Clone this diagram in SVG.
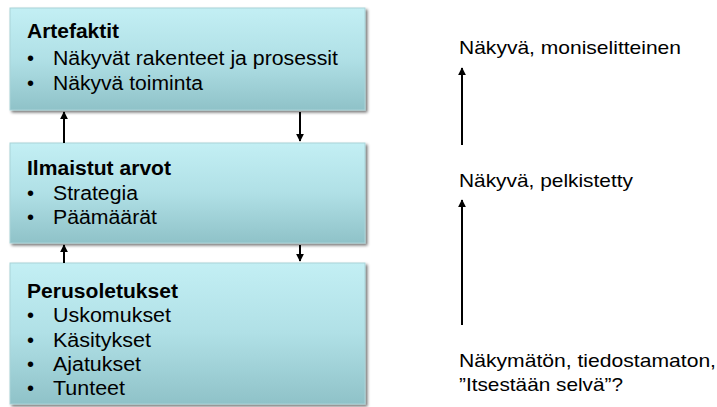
<svg xmlns="http://www.w3.org/2000/svg" width="717" height="407" viewBox="0 0 717 407">
  <defs>
    <linearGradient id="boxFill" x1="0" y1="0" x2="0" y2="1">
      <stop offset="0" stop-color="#c3eff4"/>
      <stop offset="0.5" stop-color="#b0e0e6"/>
      <stop offset="1" stop-color="#8fc2c8"/>
    </linearGradient>
    <filter id="shadow" x="-5%" y="-5%" width="115%" height="120%">
      <feGaussianBlur in="SourceAlpha" stdDeviation="1.5"/>
      <feOffset dx="2" dy="2" result="b"/>
      <feComponentTransfer><feFuncA type="linear" slope="0.55"/></feComponentTransfer>
      <feMerge><feMergeNode/><feMergeNode in="SourceGraphic"/></feMerge>
    </filter>
    <marker id="head" viewBox="0 0 10 10" refX="9" refY="5" markerWidth="4" markerHeight="4" orient="auto">
      <path d="M0,0 L10,5 L0,10 z" fill="#000"/>
    </marker>
  </defs>
  <style>
    .box { fill: url(#boxFill); stroke: #a9d3d8; stroke-width: 1; filter: url(#shadow); }
    .title { font-family: "Liberation Sans", Arial, sans-serif; font-size: 20px; font-weight: bold; fill: #000; }
    .item { font-family: "Liberation Sans", Arial, sans-serif; font-size: 20px; fill: #000; }
    .side { font-family: "Liberation Sans", Arial, sans-serif; font-size: 19px; fill: #000; }
    .conn { stroke: #000; stroke-width: 2; fill: none; marker-end: url(#head); }
  </style>

  <rect width="717" height="407" fill="#fff"/>

  <g id="artefaktit">
    <rect class="box" x="10" y="8" width="355" height="102"/>
    <text class="title" x="27" y="38" textLength="92" lengthAdjust="spacingAndGlyphs">Artefaktit</text>
    <text class="item" x="27" y="65">•</text>
    <text class="item" x="53" y="65" textLength="285" lengthAdjust="spacingAndGlyphs">Näkyvät rakenteet ja prosessit</text>
    <text class="item" x="27" y="90">•</text>
    <text class="item" x="53" y="90" textLength="150" lengthAdjust="spacingAndGlyphs">Näkyvä toiminta</text>
  </g>

  <g id="ilmaistut-arvot">
    <rect class="box" x="10" y="143" width="355" height="100"/>
    <text class="title" x="27" y="175" textLength="144" lengthAdjust="spacingAndGlyphs">Ilmaistut arvot</text>
    <text class="item" x="27" y="200">•</text>
    <text class="item" x="53" y="200" textLength="85" lengthAdjust="spacingAndGlyphs">Strategia</text>
    <text class="item" x="27" y="224">•</text>
    <text class="item" x="53" y="224" textLength="104" lengthAdjust="spacingAndGlyphs">Päämäärät</text>
  </g>

  <g id="perusoletukset">
    <rect class="box" x="10" y="263" width="355" height="141"/>
    <text class="title" x="27" y="298" textLength="151" lengthAdjust="spacingAndGlyphs">Perusoletukset</text>
    <text class="item" x="27" y="322">•</text>
    <text class="item" x="53" y="322" textLength="118" lengthAdjust="spacingAndGlyphs">Uskomukset</text>
    <text class="item" x="27" y="347">•</text>
    <text class="item" x="53" y="347" textLength="98" lengthAdjust="spacingAndGlyphs">Käsitykset</text>
    <text class="item" x="27" y="371">•</text>
    <text class="item" x="53" y="371" textLength="88" lengthAdjust="spacingAndGlyphs">Ajatukset</text>
    <text class="item" x="27" y="395">•</text>
    <text class="item" x="53" y="395" textLength="72" lengthAdjust="spacingAndGlyphs">Tunteet</text>
  </g>

  <g id="visibility-labels">
    <text class="side" x="459" y="54" textLength="222" lengthAdjust="spacingAndGlyphs">Näkyvä, moniselitteinen</text>
    <text class="side" x="459" y="187" textLength="174" lengthAdjust="spacingAndGlyphs">Näkyvä, pelkistetty</text>
    <text class="side" x="459" y="367" textLength="257" lengthAdjust="spacingAndGlyphs">Näkymätön, tiedostamaton,</text>
    <text class="side" x="459" y="391" textLength="164" lengthAdjust="spacingAndGlyphs">”Itsestään selvä”?</text>
  </g>

  <g id="connectors">
    <line class="conn" x1="64" y1="143" x2="64" y2="112"/>
    <line class="conn" x1="300" y1="112" x2="300" y2="141"/>
    <line class="conn" x1="64" y1="263" x2="64" y2="245"/>
    <line class="conn" x1="300" y1="245" x2="300" y2="261"/>
    <line class="conn" x1="462" y1="145" x2="462" y2="68"/>
    <line class="conn" x1="462" y1="325" x2="462" y2="200"/>
  </g>
</svg>
